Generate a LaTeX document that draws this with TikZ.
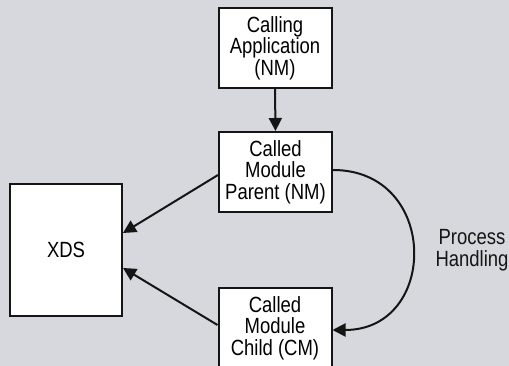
\documentclass[tikz,border=0pt]{standalone}
\usepackage{fontspec}
\setmainfont[FakeStretch=0.84]{Liberation Sans}
\usepackage{tikz}
\usetikzlibrary{arrows.meta,positioning}
\definecolor{ink}{HTML}{151515}
\definecolor{paper}{HTML}{D7D7DE}
\tikzset{
  >={Triangle[length=13pt,width=13pt]},
  every picture/.style={line width=2pt,draw=ink,font=\fontsize{22}{21.5}\selectfont},
  bx/.style={draw=ink,fill=white,align=center,inner sep=2pt,minimum width=113pt,minimum height=80pt},
  arr/.style={->,draw=ink},
  lab/.style={align=center,text=ink},
}
\begin{document}
\begin{tikzpicture}[x=1pt,y=1pt]
  \fill[paper] (0,0) rectangle (509,366);
  \useasboundingbox (0,0) rectangle (509,366);
  \node[bx] (app) at (275,318) {Calling\\Application\\(NM)};
  \node[bx] (par) at (275.5,194) {Called\\Module\\Parent (NM)};
  \node[bx,minimum width=112pt,minimum height=132pt] (xds) at (66,116) {XDS};
  \node[bx] (chd) at (275,38) {Called\\Module\\Child (CM)};
  \node[lab] (ph) at (472,116) {Process\\Handling};
  \draw[arr] (app.south) -- (par.north);
  \draw[arr] ([yshift=-3pt]par.west) -- ([yshift=17pt]xds.east);
  \draw[arr] ([yshift=3pt]chd.west) -- ([yshift=-18pt]xds.east);
  \draw[arr] ([yshift=2pt]par.east) to[out=0,in=0,looseness=1.7] ([yshift=-2pt]chd.east);
\end{tikzpicture}
\end{document}
